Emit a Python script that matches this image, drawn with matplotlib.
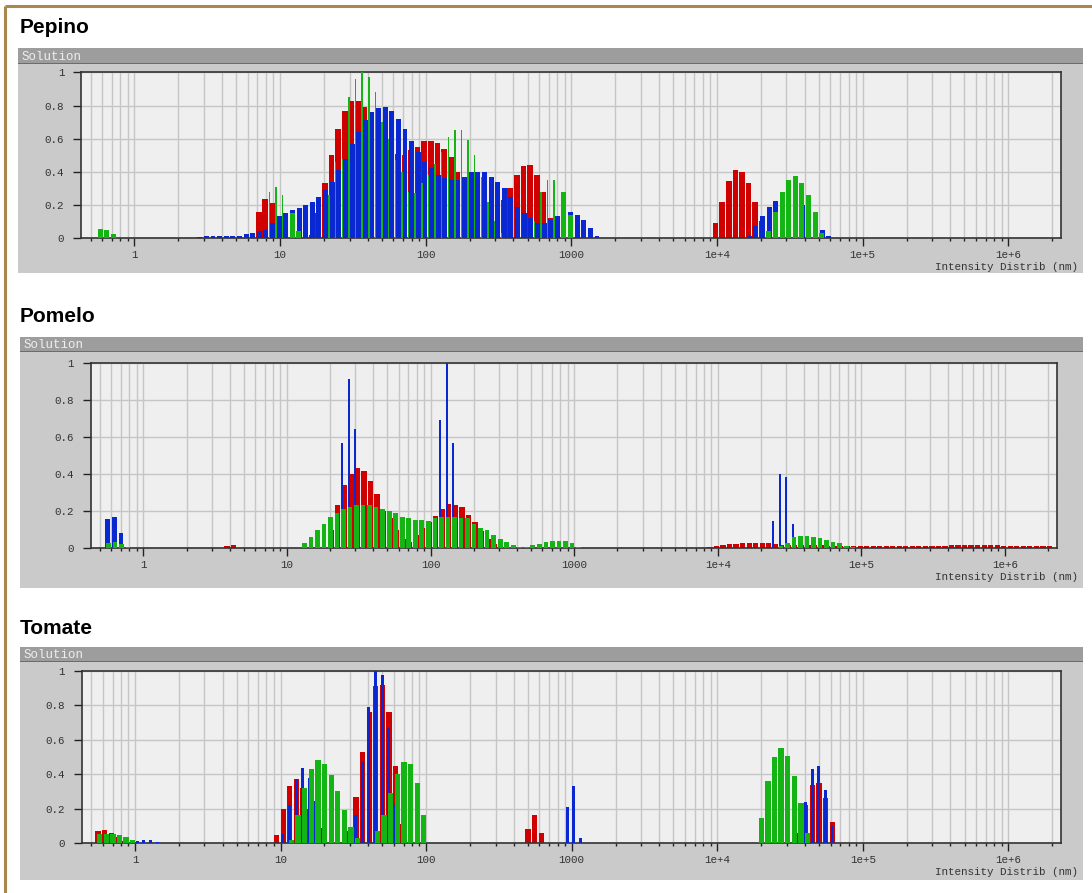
import numpy as np
import matplotlib
matplotlib.use("Agg")
import matplotlib.pyplot as plt
from matplotlib.patches import Rectangle
from matplotlib.ticker import FixedLocator, FixedFormatter, NullFormatter

W, H = 1092, 893
BINS_PER_DECADE = 22          # size bins: bin k is centred near 10**(k/22) nm

# ---------------- data: (first bin index, intensities) ----------------
PEPINO_RED = [
    (18, [0.16, 0.235, 0.21, 0.125, 0.03]),
    (26, [0.02, 0.15, 0.33, 0.50, 0.66, 0.77, 0.825, 0.83, 0.79, 0.72, 0.65, 0.585,
          0.535, 0.51, 0.50, 0.53, 0.55, 0.585, 0.585, 0.575, 0.54, 0.49, 0.40, 0.31,
          0.23, 0.17, 0.13, 0.12, 0.07, 0.23, 0.30, 0.38, 0.437, 0.443, 0.38, 0.28,
          0.12, 0.05]),
    (87, [0.09, 0.22, 0.345, 0.41, 0.40, 0.33, 0.22, 0.10]),
]
PEPINO_BLUE = [
    (9, [0.008, 0.012, 0.015, 0.015, 0.015, 0.015, 0.015, 0.022, 0.03, 0.04, 0.05,
         0.09, 0.13, 0.15, 0.17, 0.18, 0.20, 0.215, 0.245, 0.29, 0.34, 0.41, 0.48,
         0.57, 0.64, 0.71, 0.76, 0.785, 0.79, 0.765, 0.72, 0.66, 0.585, 0.52, 0.46,
         0.42, 0.38, 0.36, 0.35, 0.35, 0.37, 0.40, 0.40, 0.40, 0.37, 0.34, 0.30,
         0.25, 0.19, 0.15, 0.12, 0.09, 0.09, 0.11, 0.13, 0.15, 0.16, 0.14, 0.11,
         0.06, 0.015]),
    (92, [0.01, 0.07, 0.13, 0.19, 0.225, 0.22, 0.24, 0.235, 0.20, 0.14, 0.09, 0.05,
          0.015]),
]
PEPINO_GREEN = [
    (-6, [0.055, 0.048, 0.025]),
    (20, [0.28, 0.31, 0.26, 0.15, 0.04]),
    (29, [0.26, 0.46, 0.48, 0.85, 0.96, 1.0, 0.97, 0.88, 0.70, 0.60, 0.47, 0.40,
          0.28, 0.27, 0.33, 0.38, 0.45, 0.52, 0.61, 0.65, 0.65, 0.59, 0.50, 0.37,
          0.22, 0.10, 0.03]),
    (60, [0.10, 0.28, 0.35, 0.35, 0.28, 0.14]),
    (95, [0.04, 0.16, 0.28, 0.35, 0.375, 0.33, 0.26, 0.16, 0.03]),
]

POMELO_RED = [
    (12, [0.012, 0.018]),
    (28, [0.10, 0.23, 0.34, 0.40, 0.43, 0.415, 0.36, 0.29, 0.20, 0.16, 0.10, 0.05,
          0.03, 0.07, 0.11, 0.14, 0.175, 0.21, 0.24, 0.235, 0.22, 0.18, 0.14, 0.09,
          0.05, 0.02]),
    (86, [0.005, 0.01, 0.015, 0.02, 0.022, 0.025, 0.025, 0.025, 0.025, 0.025, 0.02,
          0.018, 0.016, 0.015, 0.015, 0.014, 0.014, 0.014, 0.013, 0.013, 0.013,
          0.013, 0.013, 0.013, 0.013, 0.013, 0.013, 0.013, 0.013, 0.013, 0.013,
          0.013, 0.013, 0.013, 0.013, 0.013, 0.013, 0.014, 0.014, 0.014, 0.014,
          0.015, 0.015, 0.015, 0.015, 0.013, 0.012, 0.011, 0.01, 0.01, 0.01, 0.01,
          0.01]),
]
POMELO_BLUE = [
    (-6, [0.157, 0.165, 0.08]),
    (30, [0.57, 0.915, 0.645, 0.07]),
    (45, [0.69, 1.0, 0.57]),
    (96, [0.145, 0.40, 0.385, 0.13]),
]
POMELO_GREEN = [
    (-6, [0.025, 0.03, 0.02, 0.005]),
    (24, [0.025, 0.06, 0.10, 0.13, 0.165, 0.19, 0.21, 0.22, 0.23, 0.23, 0.23, 0.22,
          0.21, 0.20, 0.19, 0.17, 0.16, 0.15, 0.15, 0.145, 0.16, 0.17, 0.17, 0.17,
          0.16, 0.16, 0.13, 0.11, 0.10, 0.07, 0.05, 0.03, 0.015, 0.007, 0.008,
          0.015, 0.02, 0.035, 0.04, 0.04, 0.04, 0.025, 0.008]),
    (97, [0.01, 0.025, 0.06, 0.065, 0.065, 0.06, 0.055, 0.045, 0.035, 0.025, 0.012,
          0.005]),
]

TOMATE_RED = [
    (-6, [0.07, 0.078, 0.06, 0.035, 0.01]),
    (21, [0.045, 0.2, 0.33, 0.37, 0.32, 0.2, 0.07]),
    (32, [0.07, 0.27, 0.53, 0.76, 0.91, 0.92, 0.76, 0.45, 0.11]),
    (59, [0.083, 0.16, 0.06]),
    (100, [0.06, 0.22, 0.34, 0.35, 0.26, 0.12]),
]
TOMATE_BLUE = [
    (0, [0.01, 0.015, 0.015, 0.007]),
    (22, [0.05, 0.22, 0.375, 0.435, 0.38, 0.245, 0.09]),
    (33, [0.16, 0.47, 0.79, 1.0, 0.975, 0.67, 0.22]),
    (65, [0.21, 0.33, 0.03]),
    (101, [0.24, 0.43, 0.445, 0.31, 0.10]),
]
TOMATE_GREEN = [
    (-6, [0.05, 0.055, 0.055, 0.045, 0.033, 0.02]),
    (23, [0.02, 0.16, 0.32, 0.43, 0.48, 0.46, 0.395, 0.30, 0.19, 0.095, 0.03]),
    (36, [0.07, 0.16, 0.29, 0.40, 0.47, 0.46, 0.35, 0.16]),
    (94, [0.148, 0.36, 0.50, 0.55, 0.505, 0.39, 0.23, 0.06]),
]

TITLES = ["Pepino", "Pomelo", "Tomate"]
X_TICKS = [1, 10, 100, 1000, 1e4, 1e5, 1e6]
X_TICK_LABELS = ["1", "10", "100", "1000", "1e+4", "1e+5", "1e+6"]
Y_TICKS = [0, 0.2, 0.4, 0.6, 0.8, 1.0]
Y_TICK_LABELS = ["0", "0.2", "0.4", "0.6", "0.8", "1"]
X_LABEL = "Intensity Distrib (nm)"
X_RANGE = (0.43, 2.3e6)

# ---------------- styling ----------------
RED, BLUE, GREEN = "#d00000", "#0a28d2", "#14b414"
MONO = "Liberation Mono"
SANS = "Liberation Sans"

# pixel layout: title baseline y, header top/bottom, body bottom, plot rect
PANELS = [
    dict(title_y=33, head=(48, 64), body_bottom=273, left=18,
         plot=(81, 72.5, 1061, 238)),
    dict(title_y=322, head=(337, 352), body_bottom=588, left=20,
         plot=(90.7, 363, 1057, 548)),
    dict(title_y=634, head=(647, 662), body_bottom=880, left=20,
         plot=(81.7, 671, 1061, 843)),
]

# bar geometry per panel: (offset, width) in bin units
GEOM = [
    dict(red=(0.35, 0.85), blue=(0.5, 0.75), blue_narrow=(0.5, 0.75),
         narrow_blue_from=None, green_thin=(0.3, 0.22), green_wide=(0.45, 0.75),
         thin_green_red_level=0.02),
    dict(red=(0.4, 0.8), blue=(0.2, 0.75), blue_narrow=(0.3, 0.32),
         narrow_blue_from=20, green_thin=(0.3, 0.72), green_wide=(0.3, 0.72),
         thin_green_red_level=None),
    dict(red=(0.0, 0.78), blue=(0.12, 0.45), blue_narrow=(0.12, 0.45),
         narrow_blue_from=None, green_thin=(0.25, 0.8), green_wide=(0.25, 0.8),
         thin_green_red_level=None),
]

SERIES = [
    (PEPINO_RED, PEPINO_BLUE, PEPINO_GREEN),
    (POMELO_RED, POMELO_BLUE, POMELO_GREEN),
    (TOMATE_RED, TOMATE_BLUE, TOMATE_GREEN),
]


def edges(k, off, width):
    lo = 10 ** ((k + off) / BINS_PER_DECADE)
    hi = 10 ** ((k + off + width) / BINS_PER_DECADE)
    return lo, hi - lo


def bar(ax, k, v, geom, color, z):
    lo, wd = edges(k, *geom)
    ax.bar(lo, v, width=wd, align="edge", color=color, linewidth=0, zorder=z)


def as_lookup(segments):
    out = {}
    for start, vals in segments:
        for i, v in enumerate(vals):
            out[start + i] = v
    return out


fig = plt.figure(figsize=(W / 100, H / 100), dpi=100)
bg = fig.add_axes([0, 0, 1, 1], zorder=0)
bg.set_xlim(0, W)
bg.set_ylim(H, 0)
bg.axis("off")

# outer frame (top and left only)
bg.plot([4.5, W], [5.5, 5.5], color="#a8884c", lw=2.2, solid_capstyle="butt")
bg.plot([4.5, 4.5], [5.5, H], color="#a8884c", lw=2.2, solid_capstyle="butt")

for p, title, (red, blue, green), g in zip(PANELS, TITLES, SERIES, GEOM):
    x0 = p["left"]
    x1 = 1083
    ht, hb = p["head"]
    bg.add_patch(Rectangle((x0, ht), x1 - x0, hb - ht, color="#9d9d9d", lw=0))
    bg.add_patch(Rectangle((x0, hb - 1.5), x1 - x0, 1.5, color="#6c6c6c", lw=0))
    bg.add_patch(Rectangle((x0, hb), x1 - x0, p["body_bottom"] - hb,
                           color="#cacaca", lw=0))
    bg.text(x0 + 4, (ht + hb) / 2 + 0.5, "Solution", fontfamily=MONO, fontsize=9,
            color="#eeeeee", va="center", ha="left")
    bg.text(20, p["title_y"], title, fontfamily=SANS, fontweight="bold",
            fontsize=15, color="black", va="baseline", ha="left")

    pl, pt, pr, pb = p["plot"]
    bg.text(1078, pb + 29, X_LABEL, fontfamily=MONO, fontsize=7.8,
            color="#333333", ha="right", va="center")

    ax = fig.add_axes([pl / W, 1 - pb / H, (pr - pl) / W, (pb - pt) / H],
                      zorder=2)
    ax.set_facecolor("#efefef")
    ax.set_xscale("log")
    ax.set_xlim(*X_RANGE)
    ax.set_ylim(0, 1)

    red_at = as_lookup(red)
    for k, v in red_at.items():
        bar(ax, k, v, g["red"], RED, 2)
    for k, v in as_lookup(blue).items():
        nb = g["narrow_blue_from"]
        geom = g["blue_narrow"] if (nb is not None and k >= nb) else g["blue"]
        bar(ax, k, v, geom, BLUE, 3)
    for k, v in as_lookup(green).items():
        lvl = g["thin_green_red_level"]
        thin = lvl is not None and red_at.get(k, 0) > lvl
        bar(ax, k, v, g["green_thin"] if thin else g["green_wide"], GREEN, 4)

    ax.xaxis.set_major_locator(FixedLocator(X_TICKS))
    ax.xaxis.set_major_formatter(FixedFormatter(X_TICK_LABELS))
    minors = [m * 10.0 ** d for d in range(-1, 7) for m in range(2, 10)]
    minors = [v for v in minors if X_RANGE[0] <= v <= X_RANGE[1]]
    ax.xaxis.set_minor_locator(FixedLocator(minors))
    ax.xaxis.set_minor_formatter(NullFormatter())
    ax.set_yticks(Y_TICKS)
    ax.set_yticklabels(Y_TICK_LABELS)

    ax.grid(True, which="both", axis="x", color="#c6c6c6", lw=1.0, zorder=0)
    ax.grid(True, which="major", axis="y", color="#c6c6c6", lw=1.0, zorder=0)
    ax.set_axisbelow(True)

    ax.tick_params(axis="both", which="major", length=6, width=1.0,
                   color="#222222", labelsize=7.8, labelcolor="#333333",
                   direction="out")
    ax.tick_params(axis="x", which="major", pad=2.5)
    ax.tick_params(axis="y", which="major", pad=6)
    ax.tick_params(axis="x", which="minor", length=2.5, width=1.0,
                   color="#222222", direction="out")
    for lab in ax.get_xticklabels() + ax.get_yticklabels():
        lab.set_fontfamily(MONO)
    for s in ax.spines.values():
        s.set_color("#333333")
        s.set_linewidth(1.2)

fig.savefig("out.png", dpi=100, facecolor="white")
